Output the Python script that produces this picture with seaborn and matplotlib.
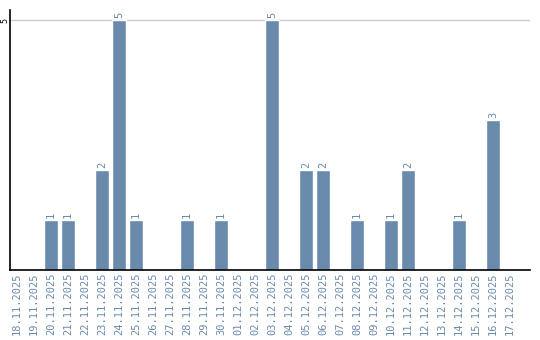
import matplotlib
matplotlib.use("Agg")
import matplotlib.pyplot as plt
import seaborn as sns
import pandas as pd

dates = ["18.11.2025", "19.11.2025", "20.11.2025", "21.11.2025", "22.11.2025",
         "23.11.2025", "24.11.2025", "25.11.2025", "26.11.2025", "27.11.2025",
         "28.11.2025", "29.11.2025", "30.11.2025", "01.12.2025", "02.12.2025",
         "03.12.2025", "04.12.2025", "05.12.2025", "06.12.2025", "07.12.2025",
         "08.12.2025", "09.12.2025", "10.12.2025", "11.12.2025", "12.12.2025",
         "13.12.2025", "14.12.2025", "15.12.2025", "16.12.2025", "17.12.2025"]
counts = [0, 0, 1, 1, 0, 2, 5, 1, 0, 0, 1, 0, 1, 0, 0,
          5, 0, 2, 2, 0, 1, 0, 1, 2, 0, 0, 1, 0, 3, 0]
y_ticks = [5]

sns.set_style("white")
plt.rcParams['font.family'] = ['DejaVu Sans Mono', 'DejaVu Sans']

bar_color = "#6a8aab"
text_color = "#6a8aab"

df = pd.DataFrame({"date": dates, "count": counts})

fig = plt.figure(figsize=(5.4, 3.4), dpi=100)
ax = fig.add_axes([10/540, 70/340, 520/540, 260/340])
sns.barplot(data=df, x="date", y="count", order=dates, color=bar_color,
            width=0.82, saturation=1, ax=ax)

ax.set_ylim(0, 5.2)
ax.set_xlim(-0.41, 30.18)
ax.set_yticks(y_ticks)
ax.set_yticklabels([str(t) for t in y_ticks], rotation=90, fontsize=6,
                   color="black", va="center", ha="center")
ax.yaxis.grid(True, color="#cccccc", linewidth=1)
ax.set_axisbelow(True)
ax.tick_params(axis="y", length=0, pad=4)
ax.tick_params(axis="x", length=0, pad=2)
ax.set_xticks(range(len(dates)))
ax.set_xticklabels(dates, rotation=90, fontsize=7.5, color=text_color, va="top")
ax.set_xlabel("")
ax.set_ylabel("")

for s in ["top", "right"]:
    ax.spines[s].set_visible(False)
for s in ["left", "bottom"]:
    ax.spines[s].set_color("black")
    ax.spines[s].set_linewidth(1.2)

for i, v in enumerate(counts):
    if v > 0:
        ax.text(i, v + 0.04, str(v), rotation=90, ha="center", va="bottom",
                fontsize=7.5, color=text_color)

fig.savefig("out.png", dpi=100)
